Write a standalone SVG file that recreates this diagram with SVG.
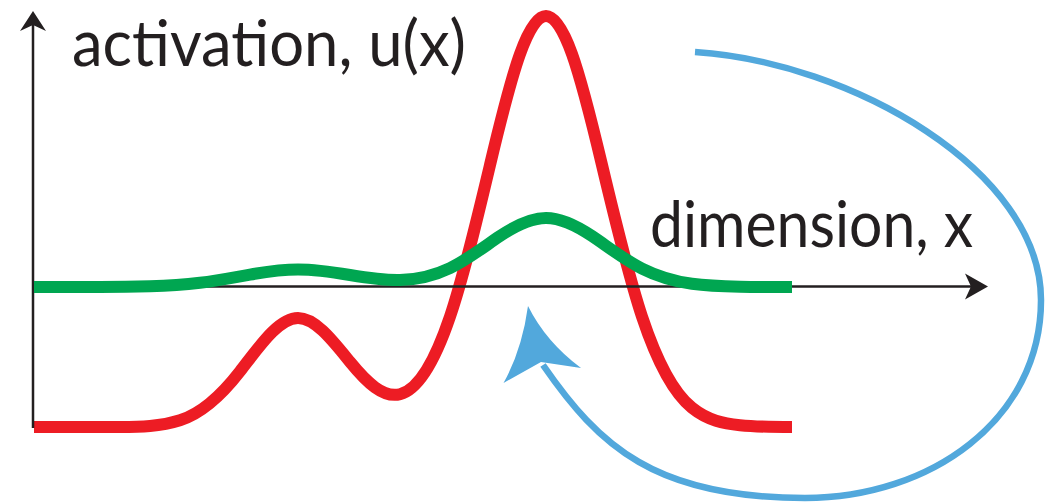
<svg xmlns="http://www.w3.org/2000/svg" width="1049" height="503" viewBox="0 0 1049 503">
<style>
.lbl{font-family:Lato,"Open Sans","Liberation Sans",sans-serif;font-size:64px;fill:#231f20}
.curve{fill:none;stroke-linecap:butt;stroke-linejoin:round}
.axis{fill:none;stroke:#231f20;stroke-width:2.5}
</style>
<rect width="1049" height="503" fill="#ffffff"/>
<g id="red-curve">
<path class="curve" stroke="#ed1c24" stroke-width="12" d="M34,427 L120,427 C140,427 160,426.6 180,420.3 C200,414 220,397.2 240,371.4 C259.33,346.5 278.67,318 298,318 C315.33,318 332.67,340.6 350,361.9 C366.67,382.4 383.33,398.4 400,394.2 C416.67,390 433.33,365.8 450,316.6 C463.33,277.3 476.67,221.1 490,165 C500,122.9 510,81.9 520,54 C528.67,29.8 537.33,16 546,16 C554.67,16 563.33,29.8 572,54 C582,81.9 592,122.9 602,165 C615.33,221.1 628.67,276.5 642,316.6 C658.67,366.8 675.33,394.4 692,407.8 C708,420.7 724,423.6 740,425.2 C757.33,427 774.67,427 792,427"/>
</g>
<g id="axes">
<line class="axis" x1="33" y1="428" x2="33" y2="24"/>
<path d="M33,11 L20,31 L33,25 L46,31 Z" fill="#231f20"/>
<line class="axis" x1="33" y1="286.5" x2="975" y2="286.5"/>
<path d="M988,286.5 L965,273.5 L971,286.5 L965,299.5 Z" fill="#231f20"/>
</g>
<g id="green-curve">
<path class="curve" stroke="#00a651" stroke-width="12" d="M34,287 L100,287 C116.67,287 133.33,286.8 150,286.3 C166.67,285.8 183.33,284.8 200,282.8 C216.67,280.8 233.33,277.55 250,274.6 C266,271.8 282,269.5 298,269.5 C315.33,269.5 332.67,272.1 350,275 C366.67,277.75 383.33,280.4 400,280 C416.67,279.6 433.33,276.1 450,268.1 C466.67,260.1 483.33,247.3 500,236.1 C515.33,225.8 530.67,218 546,218 C561.33,218 576.67,225.8 592,236.1 C608.67,247.3 625.33,260.2 642,268.6 C658.67,277 675.33,281.55 692,283.8 C708,286 724,286.4 740,286.7 C757.33,287 774.67,287 792,287"/>
</g>
<g id="feedback-arrow">
<path class="curve" stroke="#52a8dc" stroke-width="6.5" d="M695,52 C850,62 1041,170 1041,300 C1041,420 930,498 805,498 C655,498 599,446 543,365"/>
<path d="M528,306 Q522,350 503.5,383 L541,362 L581,368 Q546,342 528,306 Z" fill="#52a8dc"/>
</g>
<g id="labels">
<text class="lbl" x="72" y="66" textLength="394" lengthAdjust="spacingAndGlyphs">activation, u(x)</text>
<text class="lbl" x="650" y="247" textLength="323" lengthAdjust="spacingAndGlyphs">dimension, x</text>
</g>
</svg>
